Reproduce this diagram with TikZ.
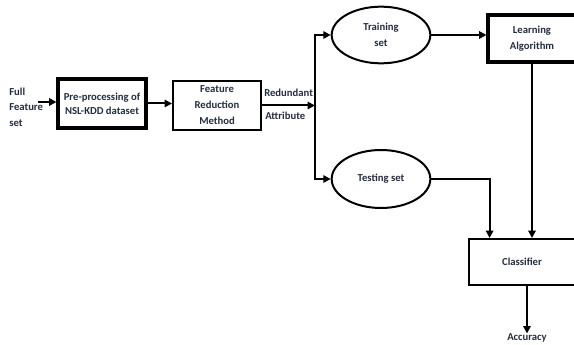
\documentclass[tikz,border=0pt]{standalone}
\usepackage{fontspec}
\setmainfont{Carlito}
\usetikzlibrary{arrows.meta,calc,shapes.geometric}
\definecolor{txtcol}{RGB}{35,45,65}

\begin{document}
\begin{tikzpicture}[x=.75pt,y=-.75pt,font=\fontsize{8}{12}\selectfont\bfseries,
  box/.style={draw,line width=1.5pt,minimum width=66pt,minimum height=36.75pt,align=center,text=txtcol},
  thickbox/.style={box,line width=2.3pt},
  sample/.style={draw,ellipse,line width=1.5pt,minimum width=74pt,minimum height=42.5pt,align=center,text=txtcol},
  lbl/.style={text=txtcol,inner sep=0pt},
  arr/.style={line width=1.5pt,-{Triangle[length=5.5pt,width=5.5pt]}}]
\useasboundingbox (0,0) rectangle (574,345);
\clip (0,0) rectangle (574,345);
% left part
\node[lbl,anchor=west,align=left,font=\fontsize{8}{11.5}\selectfont\bfseries] (full) at (9,107) {Full\\Feature\\set};
\coordinate (fin) at (38,102);
\node[thickbox,font=\fontsize{8}{10.5}\selectfont\bfseries] (pre) at (102,103.5) {Pre-processing of\\NSL-KDD dataset};
\node[box] (fr) at (217,105.5) {Feature\\Reduction\\Method};
\node[lbl,anchor=west] (red) at (264,93) {Redundant};
\node[lbl,anchor=west] (attr) at (265,116) {Attribute};
\coordinate (split) at (315,104);
% right part
\node[sample] (train) at (381,35) {Training\\set};
\node[sample,minimum height=43.5pt] (test) at (381,179) {Testing set};
\node[thickbox,minimum height=35.25pt] (learn) at (532,38.5) {Learning\\Algorithm};
\node[box,minimum width=79.5pt,minimum height=34.5pt] (cls) at (522,262) {Classifier};
\node[lbl] (acc) at (527,338) {Accuracy};
% connectors
\draw[arr] (fin) -- (fin -| pre.west);
\draw[arr] (pre.east) -- (pre.east -| fr.west);
\draw[arr] (fr.east) -- (fr.east -| split);
\draw[arr] (split) |- (train.west);
\draw[arr] (split) |- (test.west);
\draw[arr] (train.east) -- (train.east -| learn.west);
\draw[arr] (learn.south) -- (learn.south |- cls.north);
\draw[arr] (test.east) -| ($(cls.north west)!.2!(cls.north east)$);
\draw[arr] (cls.south -| acc) -- (acc.north);
\end{tikzpicture}
\end{document}
